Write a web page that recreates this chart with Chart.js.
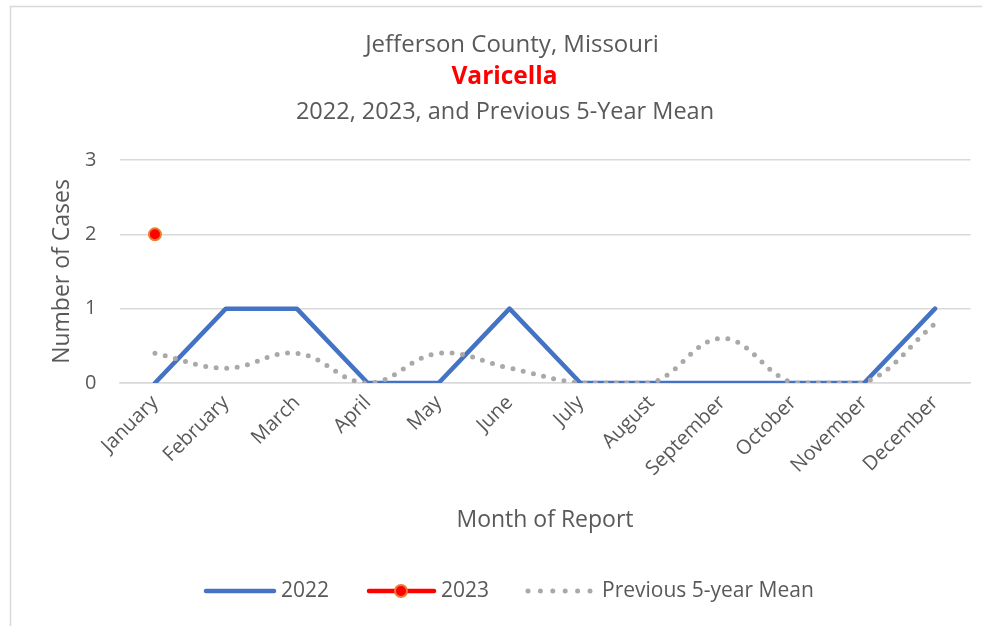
<!DOCTYPE html>
<html>
<head>
<meta charset="utf-8">
<script src="https://cdn.jsdelivr.net/npm/chart.js@4"></script>
<style>
html,body{margin:0;padding:0;background:#fff;}
#wrap{position:relative;width:982px;height:626px;}
canvas{display:block;}
</style>
</head>
<body>
<div id="wrap"><canvas id="c" width="982" height="626"></canvas></div>
<script>
const months = ["January","February","March","April","May","June","July","August","September","October","November","December"];
const cases2022 = [0,1,1,0,0,1,0,0,0,0,0,1];
const cases2023 = [2,null,null,null,null,null,null,null,null,null,null,null];
const mean5yr = [0.4,0.2,0.4,0,0.4,0.2,0,0,0.6,0,0,0.8];
const yTicks = [0,1,2,3];
const titleLines = ["Jefferson County, Missouri","Varicella","2022, 2023, and Previous 5-Year Mean"];
const yTitle = "Number of Cases";
const xTitle = "Month of Report";
const legendLabels = ["2022","2023","Previous 5-year Mean"];

const FONT = "'Open Sans', 'Noto Sans', sans-serif";
const TXT = "#595959";
const BLUE = "#4472C4";
const RED = "#FF0000";
const ORANGE = "#ED7D31";
const GRAY = "#ADA8A8";

const decor = {
  id: 'decor',
  beforeDraw(chart) {
    const ctx = chart.ctx;
    ctx.save();
    ctx.fillStyle = '#fff';
    ctx.fillRect(0,0,chart.width,chart.height);
    ctx.strokeStyle = '#d9d9d9';
    ctx.lineWidth = 1.5;
    ctx.strokeRect(10.5, 6.5, 1000, 700);
    ctx.restore();
  },
  afterDraw(chart) {
    const ctx = chart.ctx;
    const a = chart.chartArea;
    const cx = (a.left + a.right) / 2;
    ctx.save();
    ctx.textAlign = 'center';
    ctx.textBaseline = 'middle';
    ctx.fillStyle = TXT;
    ctx.font = "24px " + FONT;
    ctx.fillText(titleLines[0], 512, 45);
    ctx.fillStyle = RED;
    ctx.font = "bold 24.5px " + FONT;
    ctx.fillText(titleLines[1], 504.5, 77);
    ctx.fillStyle = TXT;
    ctx.font = "23.5px " + FONT;
    ctx.fillText(titleLines[2], 505, 112);
    // axis titles
    ctx.font = "23px " + FONT;
    ctx.fillText(xTitle, cx, 520);
    ctx.save();
    ctx.translate(62, (a.top + a.bottom) / 2);
    ctx.rotate(-Math.PI / 2);
    ctx.fillText(yTitle, 0, 0);
    ctx.restore();
    // legend
    const ly = 591;
    ctx.lineCap = 'round';
    ctx.strokeStyle = BLUE; ctx.lineWidth = 4.5;
    ctx.beginPath(); ctx.moveTo(206, ly); ctx.lineTo(274, ly); ctx.stroke();
    ctx.strokeStyle = RED;
    ctx.beginPath(); ctx.moveTo(369, ly); ctx.lineTo(434, ly); ctx.stroke();
    ctx.fillStyle = RED; ctx.strokeStyle = ORANGE; ctx.lineWidth = 2;
    ctx.beginPath(); ctx.arc(401, ly, 6, 0, Math.PI*2); ctx.fill(); ctx.stroke();
    ctx.fillStyle = GRAY;
    for (let i = 0; i < 6; i++) {
      ctx.beginPath(); ctx.arc(528 + i*12.4, ly, 2.5, 0, Math.PI*2); ctx.fill();
    }
    ctx.fillStyle = TXT;
    ctx.textAlign = 'left';
    ctx.font = "21px " + FONT;
    ctx.fillText(legendLabels[0], 281, ly);
    ctx.fillText(legendLabels[1], 441, ly);
    ctx.fillText(legendLabels[2], 602, ly);
    ctx.restore();
  }
};

new Chart(document.getElementById('c'), {
  type: 'line',
  data: {
    labels: months,
    datasets: [
      {
        label: legendLabels[2], data: mean5yr,
        borderColor: GRAY, borderWidth: 5, borderDash: [0, 10.5], borderCapStyle: 'round',
        tension: 0.4, pointRadius: 0, order: 2
      },
      {
        label: legendLabels[0], data: cases2022,
        borderColor: BLUE, borderWidth: 4.5, borderCapStyle: 'round', borderJoinStyle: 'round',
        tension: 0, pointRadius: 0, order: 3
      },
      {
        label: legendLabels[1], data: cases2023,
        borderColor: RED, borderWidth: 4.5, backgroundColor: RED,
        pointRadius: 6, pointBackgroundColor: RED, pointBorderColor: ORANGE, pointBorderWidth: 2,
        order: 1
      }
    ]
  },
  options: {
    responsive: false,
    animation: false,
    events: [],
    layout: { padding: { left: 0, right: 11.5, top: 160, bottom: 0 } },
    plugins: { legend: { display: false }, title: { display: false }, tooltip: { enabled: false } },
    scales: {
      x: {
        offset: true,
        grid: { display: false, drawTicks: false },
        border: { display: true, color: '#d9d9d9', width: 1.5 },
        ticks: { color: TXT, font: { family: FONT, size: 20 }, maxRotation: 45, minRotation: 45, padding: 8, autoSkip: false },
        afterFit(s) { s.height = 243; }
      },
      y: {
        min: 0, max: 3,
        afterBuildTicks(s) { s.ticks = yTicks.map(v => ({ value: v })); },
        grid: { color: '#d9d9d9', lineWidth: 1.5, drawTicks: false },
        border: { display: false },
        ticks: { color: TXT, font: { family: FONT, size: 20 }, padding: 23 },
        afterFit(s) { s.width = 119.5; }
      }
    }
  },
  plugins: [decor]
});
</script>
</body>
</html>
